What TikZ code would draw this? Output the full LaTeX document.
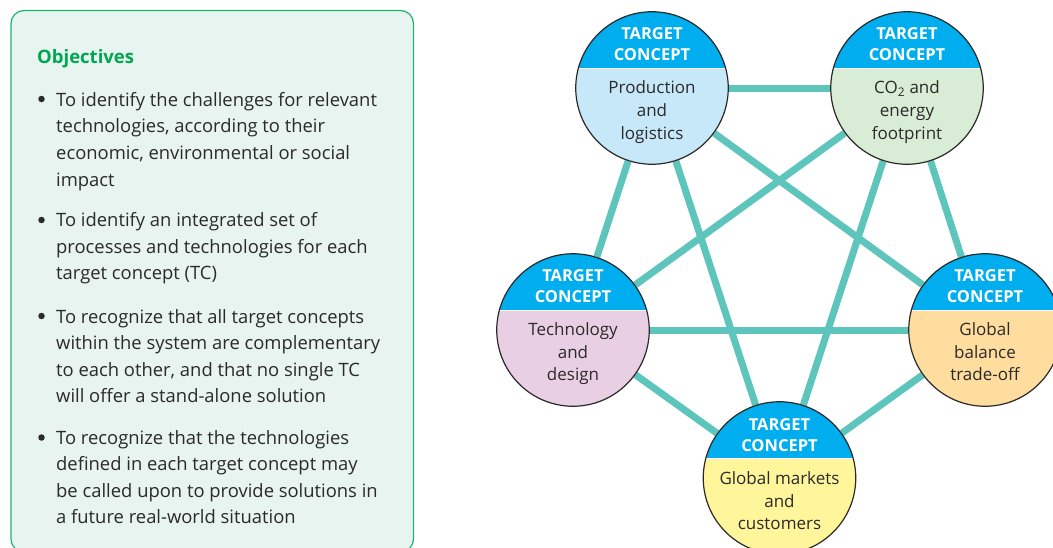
\documentclass[tikz,border=0pt]{standalone}
\usepackage{fontspec}
\setmainfont{Open Sans}
\usetikzlibrary{backgrounds}
\definecolor{boxfill}{HTML}{E7F4F0}
\definecolor{boxline}{HTML}{1DB46C}
\definecolor{headgreen}{HTML}{00A651}
\definecolor{ink}{HTML}{2B2A29}
\definecolor{cyanhead}{HTML}{00AEEF}
\definecolor{link}{HTML}{5EC5BC}
\definecolor{cA}{HTML}{C7E8F9}
\definecolor{cB}{HTML}{D9ECD5}
\definecolor{cC}{HTML}{E9CFE3}
\definecolor{cD}{HTML}{FEDD9E}
\definecolor{cE}{HTML}{FFF59B}
\tikzset{
  x=1pt,y=-1pt,
  tc/.style={circle,inner sep=0pt,minimum size=152.5pt,draw=ink,line width=1.2pt,fill=#1,
    path picture={
      \fill[cyanhead] ([xshift=-80pt,yshift=19.5pt]path picture bounding box.center) rectangle ([xshift=80pt,yshift=100pt]path picture bounding box.center);
      \draw[white,line width=1.2pt] ([xshift=-80pt,yshift=19.5pt]path picture bounding box.center) -- ([xshift=80pt,yshift=19.5pt]path picture bounding box.center);
    }},
  tchead/.style={font=\fontsize{16.5}{21}\selectfont\bfseries,text=white,align=center,inner sep=0pt,
    execute at begin node=\strut,execute at end node=\strut},
  tcbody/.style={font=\fontsize{17}{22.8}\selectfont,text=ink,align=center,inner sep=0pt,
    execute at begin node=\strut,execute at end node=\strut},
  obj/.style={font=\fontsize{18.4}{26.6}\selectfont,text=ink,align=left,anchor=north west,inner sep=0pt},
  bul/.style={circle,fill=ink,inner sep=0pt,minimum size=6.5pt},
  objhead/.style={font=\fontsize{18.5}{22}\selectfont\bfseries,text=headgreen,anchor=west,inner sep=0pt},
  panel/.style={draw=boxline,fill=boxfill,line width=1.2pt,rounded corners=13pt},
  linkline/.style={link,line width=7pt}
}
\begin{document}
\begin{tikzpicture}
\useasboundingbox (0,0) rectangle (1053,547);
\clip (0,0) rectangle (1053,547);
\draw[panel] (11,10.5) rectangle (413.5,552);
\node[objhead] (title) at (37,58.5) {Objectives};
\node[bul] (b1) at (41.5,99) {};
\node[obj] (t1) at (56,92) {To identify the challenges for relevant\\technologies, according to their\\economic, environmental or social\\impact};
\node[bul] (b2) at (41.5,220) {};
\node[obj] (t2) at (56,212.5) {To identify an integrated set of\\processes and technologies for each\\target concept (TC)};
\node[bul] (b3) at (41.5,316) {};
\node[obj] (t3) at (56,309) {To recognize that all target concepts\\within the system are complementary\\to each other, and that no single TC\\will offer a stand-alone solution};
\node[bul] (b4) at (41.5,437.5) {};
\node[obj] (t4) at (56,430) {To recognize that the technologies\\defined in each target concept may\\be called upon to provide solutions in\\a future real-world situation};

\node[tc=cA] (pl) at (652,88) {};
\node[tc=cB] (co) at (907,88) {};
\node[tc=cC] (td) at (573,330) {};
\node[tc=cD] (gb) at (985,330) {};
\node[tc=cE] (gm) at (779.5,478) {};

\begin{scope}[on background layer]
\foreach \p/\q in {pl/co,pl/td,pl/gb,pl/gm,co/td,co/gb,co/gm,td/gb,td/gm,gb/gm}
  \draw[linkline] (\p) -- (\q);
\end{scope}

\node[tchead] (hpl) at (652,47.5) {TARGET\\CONCEPT};
\node[tchead] (hco) at (907,47.5) {TARGET\\CONCEPT};
\node[tchead] (htd) at (573,289.5) {TARGET\\CONCEPT};
\node[tchead] (hgb) at (985,289.5) {TARGET\\CONCEPT};
\node[tchead] (hgm) at (779.5,438.5) {TARGET\\CONCEPT};

\node[tcbody] (lpl) at (652,113.5) {Production\\and\\logistics};
\node[tcbody] (lco) at (907,113.5) {CO\textsubscript{2} and\\energy\\footprint};
\node[tcbody] (ltd) at (573,355) {Technology\\and\\design};
\node[tcbody] (lgb) at (985,355) {Global\\balance\\trade-off};
\node[tcbody] (lgm) at (779.5,504) {Global markets\\and\\customers};
\end{tikzpicture}
\end{document}
